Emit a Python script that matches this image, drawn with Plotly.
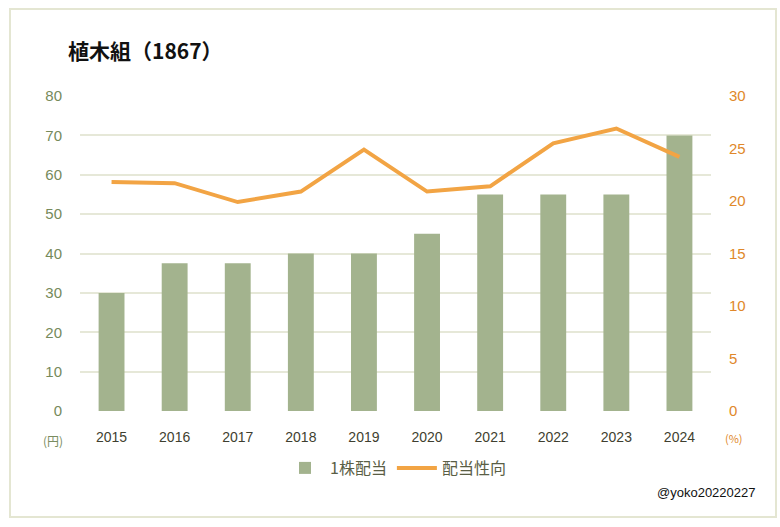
import plotly.graph_objects as go

years = ["2015", "2016", "2017", "2018", "2019", "2020", "2021", "2022", "2023", "2024"]
dividend = [30, 37.5, 37.5, 40, 40, 45, 55, 55, 55, 70]
payout = [21.8, 21.7, 19.9, 20.9, 24.9, 20.9, 21.4, 25.5, 26.9, 24.2]

W, H = 780, 527
L, R, T, B = 80, 69, 96, 116
pw, ph = W - L - R, H - T - B

def px(x):
    return (x - L) / pw

def py(y):
    return (H - B - y) / ph

jp = "Noto Sans CJK JP"
num = "Liberation Sans"

fig = go.Figure()
fig.add_trace(go.Bar(
    x=years, y=dividend, name="1株配当",
    marker=dict(color="#a3b38e", line=dict(width=0)),
    width=0.41,
))
fig.add_trace(go.Scatter(
    x=years, y=payout, name="配当性向", yaxis="y2", mode="lines",
    line=dict(color="#f2a444", width=4),
))

fig.update_layout(
    width=W, height=H,
    margin=dict(l=L, r=R, t=T, b=B),
    paper_bgcolor="white", plot_bgcolor="white",
    showlegend=True,
    legend=dict(orientation="h", x=0.5, xanchor="center", y=py(468), yanchor="middle",
                font=dict(family=jp, size=16, color="#5a5e45"),
                itemwidth=40, traceorder="normal"),
    xaxis=dict(type="category", showgrid=False, zeroline=False, showline=False,
               ticks="", tickfont=dict(family=num, size=14, color="#3f3f30"),
               ticklabelstandoff=16),
    yaxis=dict(range=[0, 80], dtick=10, showgrid=True, gridcolor="#e6e8d8", gridwidth=2,
               zeroline=False, ticks="", showline=False,
               tickfont=dict(family=num, size=15, color="#768a5b"), ticklabelstandoff=17),
    yaxis2=dict(range=[0, 30], dtick=5, overlaying="y", side="right", showgrid=False,
                zeroline=False, ticks="", showline=False,
                tickfont=dict(family=num, size=15, color="#e0882a"), ticklabelstandoff=17),
    bargap=0.59,
    shapes=[dict(type="rect", xref="paper", yref="paper",
                 x0=px(10), x1=px(776), y0=py(517), y1=py(9),
                 line=dict(color="#e4e6d2", width=2), fillcolor="rgba(0,0,0,0)", layer="below")],
    annotations=[
        dict(text="<b>植木組（1867）</b>", xref="paper", yref="paper", x=px(66), y=py(50),
             xanchor="left", yanchor="middle", showarrow=False,
             font=dict(family=jp, size=21, color="#111111")),
        dict(text="(円)", xref="paper", yref="paper", x=px(53), y=py(440),
             xanchor="center", yanchor="middle", showarrow=False,
             font=dict(family=jp, size=12, color="#7a8c60")),
        dict(text="(%)", xref="paper", yref="paper", x=px(734), y=py(438),
             xanchor="center", yanchor="middle", showarrow=False,
             font=dict(family=jp, size=11, color="#e0882a")),
        dict(text="@yoko20220227", xref="paper", yref="paper", x=px(758), y=py(492),
             xanchor="right", yanchor="middle", showarrow=False,
             font=dict(family=num, size=13, color="#111111")),
    ],
)

fig.write_html("out.html", config={"displayModeBar": False},
               post_script="document.body.style.margin='0';document.body.style.padding='0';")
